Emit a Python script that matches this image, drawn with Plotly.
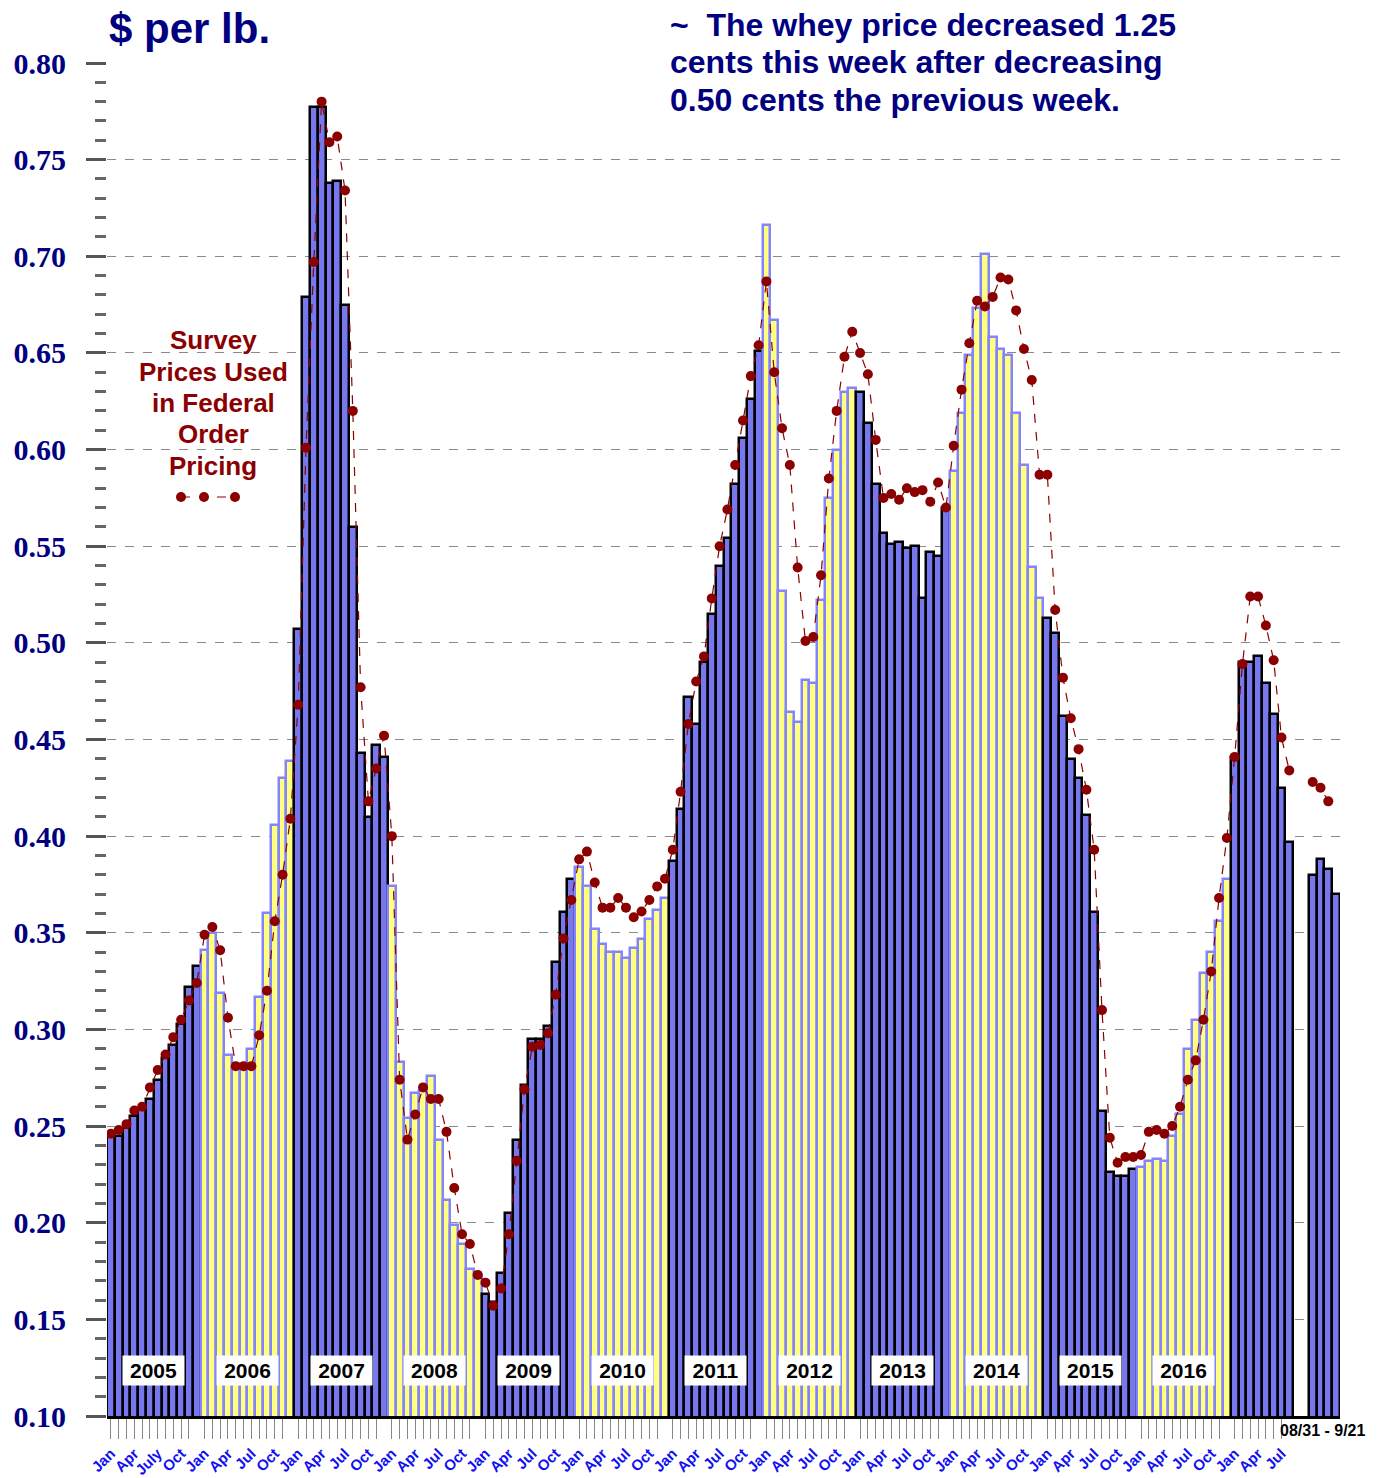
import plotly.graph_objects as go

# ---------------- data ----------------
years = [2005, 2006, 2007, 2008, 2009, 2010, 2011, 2012, 2013, 2014, 2015, 2016, 2017]

bars_2005 = [0.245, 0.245, 0.249, 0.255, 0.259, 0.264, 0.274, 0.285, 0.292, 0.303, 0.322, 0.333]
bars_2006 = [0.341, 0.350, 0.319, 0.287, 0.280, 0.280, 0.290, 0.317, 0.360, 0.406, 0.430, 0.439]
bars_2007 = [0.507, 0.679, 0.777, 0.777, 0.738, 0.739, 0.675, 0.560, 0.443, 0.410, 0.447, 0.441]
bars_2008 = [0.374, 0.283, 0.254, 0.267, 0.268, 0.276, 0.243, 0.212, 0.199, 0.189, 0.176, 0.173]
bars_2009 = [0.163, 0.159, 0.174, 0.205, 0.243, 0.271, 0.295, 0.295, 0.302, 0.335, 0.361, 0.378]
bars_2010 = [0.384, 0.374, 0.352, 0.344, 0.340, 0.340, 0.337, 0.342, 0.347, 0.357, 0.362, 0.368]
bars_2011 = [0.387, 0.414, 0.472, 0.458, 0.490, 0.515, 0.540, 0.554, 0.582, 0.606, 0.626, 0.651]
bars_2012 = [0.716, 0.667, 0.527, 0.464, 0.459, 0.481, 0.479, 0.522, 0.575, 0.600, 0.630, 0.632]
bars_2013 = [0.630, 0.614, 0.582, 0.557, 0.551, 0.552, 0.549, 0.550, 0.523, 0.547, 0.545, 0.570]
bars_2014 = [0.589, 0.619, 0.649, 0.673, 0.701, 0.658, 0.652, 0.649, 0.619, 0.592, 0.539, 0.523]
bars_2015 = [0.513, 0.505, 0.462, 0.440, 0.430, 0.411, 0.361, 0.258, 0.226, 0.224, 0.224, 0.228]
bars_2016 = [0.229, 0.232, 0.233, 0.232, 0.245, 0.256, 0.290, 0.305, 0.329, 0.340, 0.356, 0.378]
bars_2017 = [0.441, 0.490, 0.490, 0.493, 0.479, 0.463, 0.425, 0.397]
bars_weekly = [0.380, 0.388, 0.383, 0.370]

survey_2005 = [0.246, 0.248, 0.251, 0.258, 0.260, 0.270, 0.279, 0.287, 0.296, 0.305, 0.315, 0.324]
survey_2006 = [0.349, 0.353, 0.341, 0.306, 0.281, 0.281, 0.281, 0.297, 0.320, 0.356, 0.380, 0.409]
survey_2007 = [0.468, 0.601, 0.697, 0.780, 0.759, 0.762, 0.734, 0.620, 0.477, 0.418, 0.435, 0.452]
survey_2008 = [0.400, 0.274, 0.243, 0.256, 0.270, 0.264, 0.264, 0.247, 0.218, 0.194, 0.189, 0.173]
survey_2009 = [0.169, 0.157, 0.166, 0.194, 0.232, 0.269, 0.291, 0.292, 0.298, 0.318, 0.347, 0.367]
survey_2010 = [0.388, 0.392, 0.376, 0.363, 0.363, 0.368, 0.363, 0.358, 0.361, 0.367, 0.374, 0.378]
survey_2011 = [0.393, 0.423, 0.458, 0.480, 0.493, 0.523, 0.550, 0.569, 0.592, 0.615, 0.638, 0.654]
survey_2012 = [0.687, 0.640, 0.611, 0.592, 0.539, 0.501, 0.503, 0.535, 0.585, 0.620, 0.648, 0.661]
survey_2013 = [0.650, 0.639, 0.605, 0.575, 0.577, 0.574, 0.580, 0.578, 0.579, 0.573, 0.583, 0.570]
survey_2014 = [0.602, 0.631, 0.655, 0.677, 0.674, 0.679, 0.689, 0.688, 0.672, 0.652, 0.636, 0.587]
survey_2015 = [0.587, 0.517, 0.482, 0.461, 0.445, 0.424, 0.393, 0.310, 0.244, 0.231, 0.234, 0.234]
survey_2016 = [0.235, 0.247, 0.248, 0.246, 0.250, 0.260, 0.274, 0.284, 0.305, 0.330, 0.368, 0.399]
survey_2017 = [0.441, 0.489, 0.524, 0.524, 0.509, 0.491, 0.451, 0.434]
survey_weekly = [0.428, 0.425, 0.418, None]

month_labels = ["Jan", "", "", "Apr", "", "", "Jul", "", "", "Oct", "", ""]
week_range_label = "08/31 - 9/21"

yearly_bars = [bars_2005, bars_2006, bars_2007, bars_2008, bars_2009, bars_2010, bars_2011,
               bars_2012, bars_2013, bars_2014, bars_2015, bars_2016, bars_2017]
yearly_survey = [survey_2005, survey_2006, survey_2007, survey_2008, survey_2009, survey_2010,
                 survey_2011, survey_2012, survey_2013, survey_2014, survey_2015, survey_2016,
                 survey_2017]

# ---------------- build series ----------------
DARK_FILL, DARK_LINE = "#7878EE", "#000000"
LIGHT_FILL, LIGHT_LINE = "#FFFF80", "#8484FF"

bar_x, bar_y, fills, lines = [], [], [], []
sv_x, sv_y = [], []
tickvals, ticktext = [], []
idx = 0
for k, (yr, vals, svals) in enumerate(zip(years, yearly_bars, yearly_survey)):
    dark = (k % 2 == 0)
    for m, v in enumerate(vals):
        bar_x.append(idx); bar_y.append(v)
        fills.append(DARK_FILL if dark else LIGHT_FILL)
        lines.append(DARK_LINE if dark else LIGHT_LINE)
        sv_x.append(idx); sv_y.append(svals[m])
        if m < len(vals) - 1:
            tickvals.append(idx)
            lab = month_labels[m]
            if yr == 2005 and m == 6:
                lab = "July"
            ticktext.append(f"<b>{lab}</b>" if lab else "")
        idx += 1
gap_slots = 2
# break the line across the gap
sv_x.append(idx); sv_y.append(None)
idx += gap_slots
for j, v in enumerate(bars_weekly):
    bar_x.append(idx); bar_y.append(v)
    fills.append(DARK_FILL); lines.append(DARK_LINE)
    sv_x.append(idx); sv_y.append(survey_weekly[j])
    idx += 1
n_slots = idx

fig = go.Figure()
fig.add_trace(go.Bar(
    x=bar_x, y=bar_y, width=1.0,
    marker=dict(color=fills, line=dict(color=lines, width=2.5)),
    showlegend=False, hoverinfo="skip",
))
fig.add_trace(go.Scatter(
    x=sv_x, y=sv_y, mode="lines+markers", connectgaps=False,
    line=dict(color="#8B0000", width=1.2, dash="dash"),
    marker=dict(color="#8B0000", size=10),
    showlegend=False, hoverinfo="skip",
))

# ---------------- layout ----------------
W, H = 1384, 1478
L, R, T, B = 107, 44, 63, 62
PW, PH = W - L - R, H - T - B


def px(x):
    return (x - L) / PW


def py(y):
    return (H - B - y) / PH


yt = [round(0.10 + 0.05 * i, 2) for i in range(15)]
fig.update_layout(
    width=W, height=H,
    margin=dict(l=L, r=R, t=T, b=B, autoexpand=False),
    paper_bgcolor="white", plot_bgcolor="white",
    bargap=0,
    xaxis=dict(
        range=[-0.5, n_slots - 0.5], tickmode="array", tickvals=tickvals, ticktext=ticktext,
        ticks="outside", ticklen=20, tickwidth=1, tickcolor="#888888", tickangle=-45,
        tickfont=dict(family="Arial, Liberation Sans", size=15, color="#1010F0"),
        showline=True, linecolor="black", linewidth=3, showgrid=False, zeroline=False,
        automargin=False,
    ),
    yaxis=dict(
        range=[0.10, 0.80], tickmode="array", tickvals=yt,
        ticktext=[f"<b>{v:.2f}</b>" for v in yt],
        ticks="outside", ticklen=20, tickwidth=3, tickcolor="#555555", ticklabelstandoff=14,
        tickfont=dict(family="Liberation Serif, Times New Roman", size=30, color="#000080"),
        showgrid=True, gridcolor="#8a8a8a", gridwidth=1, griddash="dash",
        minor=dict(dtick=0.01, tick0=0.10, ticks="outside", ticklen=11, tickwidth=3,
                   tickcolor="#666666", showgrid=False),
        showline=False, zeroline=False, automargin=False,
    ),
)

ann = []
ann.append(dict(text="<b>$ per lb.</b>", x=px(107), y=py(29), xref="paper", yref="paper",
                xanchor="left", yanchor="middle", showarrow=False,
                font=dict(family="Arial, Liberation Sans", size=42, color="#000080")))
right_lines = ["~  The whey price decreased 1.25", "cents this week after decreasing",
               "0.50 cents the previous week."]
for i, t in enumerate(right_lines):
    ann.append(dict(text=f"<b>{t}</b>", x=px(668), y=py(25 + 37.5 * i), xref="paper", yref="paper",
                    xanchor="left", yanchor="middle", showarrow=False,
                    font=dict(family="Arial, Liberation Sans", size=32, color="#000080")))
survey_lines = ["Survey", "Prices Used", "in Federal", "Order", "Pricing"]
for i, t in enumerate(survey_lines):
    ann.append(dict(text=f"<b>{t}</b>", x=px(213), y=py(340 + 31.5 * i), xref="paper", yref="paper",
                    xanchor="center", yanchor="middle", showarrow=False,
                    font=dict(family="Arial, Liberation Sans", size=26, color="#8B0000")))
for k, yr in enumerate(years[:-1]):
    ann.append(dict(text=f"<b>{yr}</b>", x=12 * k + 5.5, y=0.1236, xref="x", yref="y",
                    xanchor="center", yanchor="middle", showarrow=False, bgcolor="white",
                    width=57, height=25, borderpad=2,
                    font=dict(family="Arial, Liberation Sans", size=21, color="black")))
ann.append(dict(text=f"<b>{week_range_label}</b>", x=px(1323), y=py(1431), xref="paper", yref="paper",
                xanchor="center", yanchor="middle", showarrow=False,
                font=dict(family="Arial, Liberation Sans", size=16, color="black")))
fig.update_layout(annotations=ann)

# legend sample for the survey line
shapes = [dict(type="line", xref="paper", yref="paper", x0=px(181), x1=px(235), y0=py(497), y1=py(497),
               line=dict(color="#8B0000", width=1.2, dash="dash"))]
for cx in (181, 204, 235):
    shapes.append(dict(type="circle", xref="paper", yref="paper",
                       x0=px(cx - 5), x1=px(cx + 5), y0=py(497 + 5), y1=py(497 - 5),
                       fillcolor="#8B0000", line=dict(color="#8B0000", width=0)))
fig.update_layout(shapes=shapes)

fig.write_html("out.html", config={"displayModeBar": False},
               post_script="document.body.style.margin='0';document.body.style.overflow='hidden';")
